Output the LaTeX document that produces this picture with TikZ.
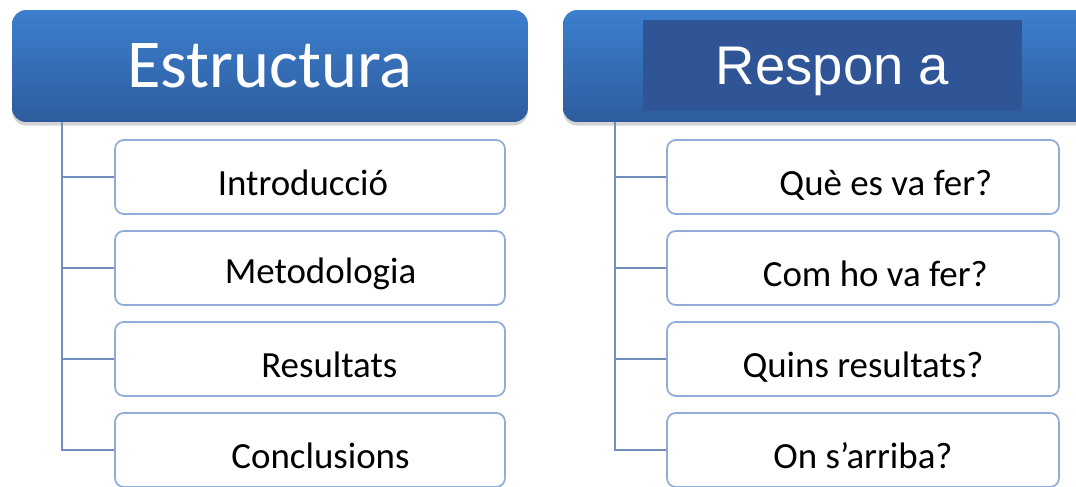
\documentclass[tikz,border=0pt]{standalone}
\usepackage{fontspec}
\setmainfont{Carlito}
\newfontfamily\arialfont{Liberation Sans}
\usetikzlibrary{positioning,shadows}
\definecolor{headtop}{RGB}{60,127,206}
\definecolor{headbot}{RGB}{46,92,158}
\definecolor{headdark}{RGB}{47,85,151}
\definecolor{boxline}{RGB}{146,172,218}
\definecolor{linkline}{RGB}{112,142,190}
\tikzstyle{head}=[rectangle,rounded corners=8pt,top color=headtop,bottom color=headbot,
  draw=none,minimum height=2.24cm,text=white,
  drop shadow={opacity=.35,shadow xshift=0pt,shadow yshift=-2pt}]
\tikzstyle{child}=[rectangle,rounded corners=5pt,draw=boxline,line width=1pt,fill=white,
  minimum width=7.8cm,minimum height=1.48cm,text height=21pt,text depth=0pt,
  font=\fontsize{21}{25}\selectfont]
\tikzstyle{link}=[draw=linkline,line width=1.2pt]

\begin{document}
\begin{tikzpicture}[x=0.02cm, y=-0.02cm, on grid, node distance=1.82cm]
  \useasboundingbox (0,0) rectangle (1076,487);

  % headers
  \node[head, minimum width=10.32cm, font=\fontsize{39}{44}\selectfont] (hl) at (270,66) {Estructura};
  \node[head, minimum width=10.54cm] (hr) at (826.5,66) {};
  \node[rectangle, fill=headdark, minimum width=7.58cm, minimum height=1.82cm,
    text height=22pt, text depth=0pt,
    text=white, font=\arialfont\fontsize{31}{36}\selectfont] (hrt) at (832.5,65.5) {Respon a};

  % left column
  \node[child] (l1) at (310,177) {\hspace*{-8pt}Introducció};
  \node[child, below=of l1, text height=18pt] (l2) {\hspace*{12pt}Metodologia};
  \node[child, below=of l2] (l3) {\hspace*{22pt}Resultats};
  \node[child, below=of l3] (l4) {\hspace*{12pt}Conclusions};

  % right column
  \node[child, minimum width=7.84cm] (r1) at (863,177) {\hspace*{26pt}Què es va fer?};
  \node[child, minimum width=7.84cm, below=of r1] (r2) {\hspace*{14pt}Com ho va fer?};
  \node[child, minimum width=7.84cm, below=of r2] (r3) {Quins resultats?};
  \node[child, minimum width=7.84cm, below=of r3] (r4) {On s’arriba?};

  \coordinate (lt) at (62,122);
  \coordinate (rt) at (615,122);
  \foreach \i in {1,...,4} {
    \draw[link] (lt) |- (l\i.west);
    \draw[link] (rt) |- (r\i.west);
  }
\end{tikzpicture}
\end{document}
